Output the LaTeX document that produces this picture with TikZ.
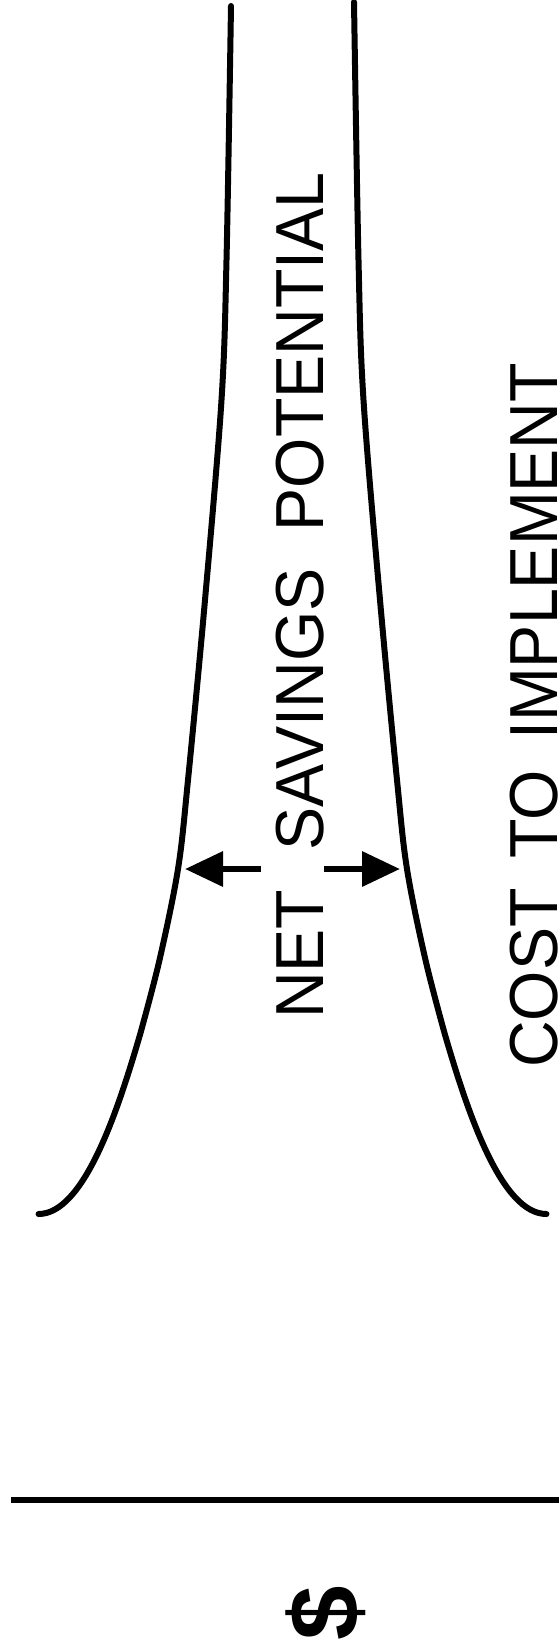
\documentclass[tikz,border=0pt]{standalone}
\usepackage{fontspec}
\setmainfont{Liberation Sans}
\newfontfamily\lblfont[FakeStretch=0.95]{Liberation Sans}
\usetikzlibrary{arrows.meta}
\begin{document}
\begin{tikzpicture}[x=1pt,y=-1pt,
  curve/.style={line width=6pt, line cap=round, line join=round},
  axisline/.style={line width=6pt},
  pointer/.style={line width=6.5pt, -{Triangle[length=38pt,width=34pt]}},
  lbl/.style={rotate=90, inner sep=0pt, font=\lblfont\fontsize{68}{70}\selectfont},
  sign/.style={rotate=90, inner sep=0pt, font=\bfseries\fontsize{98}{100}\selectfont}]
\fill[white] (0,0) rectangle (559,1647);
\useasboundingbox (0,0) rectangle (559,1647);

% savings curve (left): steep upper run, then a rounded foot
\draw[curve] plot[smooth, tension=0.55] coordinates {
  (231,6) (226.5,260) (221.5,400) (205,600) (188,780) (178,869)
  (159.5,960) (140.5,1033)}
  .. controls (117.3,1113) and (83.5,1214) .. (38.5,1214);
% cost curve (right), the mirror image
\draw[curve] plot[smooth, tension=0.55] coordinates {
  (354,2) (358.5,260) (363.5,400) (380,600) (397,780) (407,869)
  (425.5,960) (444.5,1033)}
  .. controls (467.7,1113) and (501.5,1214) .. (546.5,1214);

% labels
\node[lbl, anchor=base west] (net) at (323,1019)
  {NET\hspace{39pt}SAVINGS\hspace{37pt}POTENTIAL};
\node[lbl, anchor=base west] (cost) at (557,1068)
  {COST\hspace{30pt}TO\hspace{30pt}IMPLEMENT};

% span arrows
\coordinate (lstart) at (261,869);
\coordinate (ltip) at (185,869);
\coordinate (rstart) at (324,869);
\coordinate (rtip) at (400,869);
\draw[pointer] (lstart) -- (ltip);
\draw[pointer] (rstart) -- (rtip);

% axis
\coordinate (ax0) at (11,1500);
\coordinate (ax1) at (559,1500);
\draw[axisline] (ax0) -- (ax1);

\node[sign] (dollar) at (326,1613) {\$};
\end{tikzpicture}
\end{document}
